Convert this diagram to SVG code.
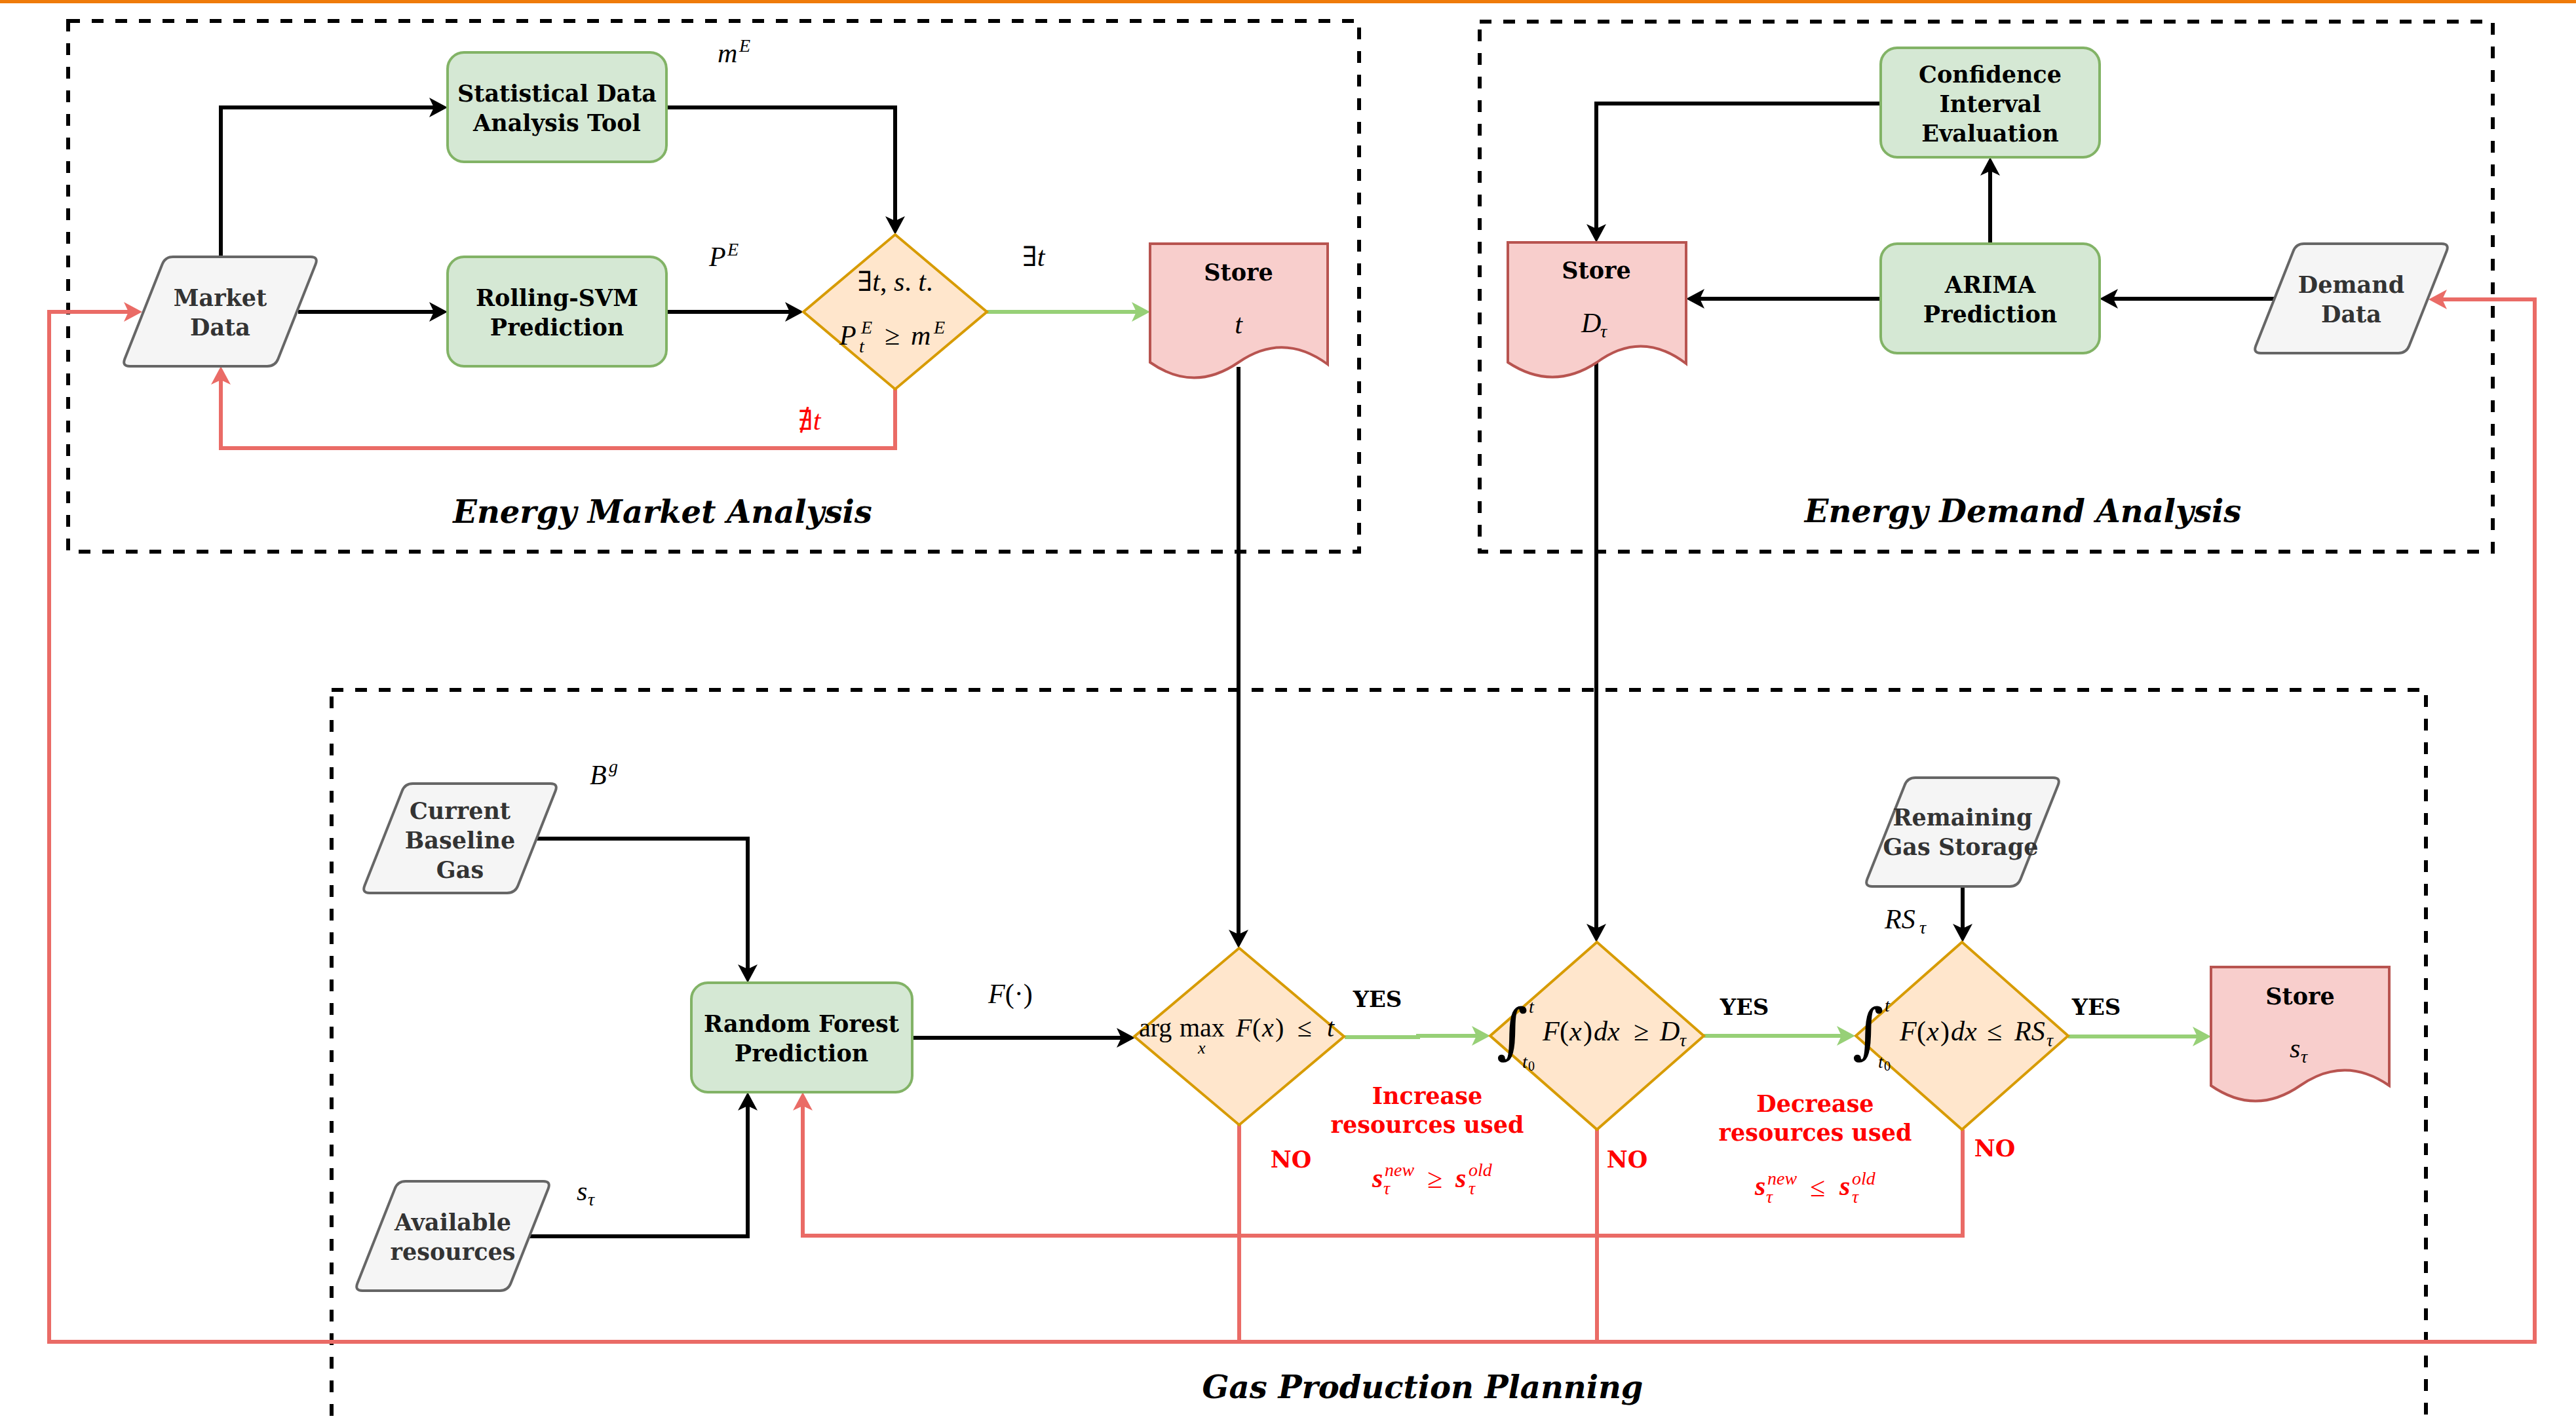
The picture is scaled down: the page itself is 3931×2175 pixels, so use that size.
<svg xmlns="http://www.w3.org/2000/svg" width="3931" height="2175" viewBox="0 0 3931 2175">
<style>
.sec{fill:none;stroke:#000;stroke-width:6;stroke-dasharray:18 18}
.title{font-family:"DejaVu Serif","Liberation Serif",serif;font-weight:bold;font-style:italic;font-size:48px;text-anchor:middle;fill:#000}
.ek{fill:none;stroke:#000;stroke-width:6}
.eg{fill:none;stroke:#97D077;stroke-width:6}
.er{fill:none;stroke:#EA6B66;stroke-width:6}
.proc{fill:#d5e8d4;stroke:#82b366;stroke-width:4}
.io{fill:#f5f5f5;stroke:#666666;stroke-width:4;stroke-linejoin:round}
.dec{fill:#ffe6cc;stroke:#d79b00;stroke-width:4}
.doc{fill:#f8cecc;stroke:#b85450;stroke-width:4}
.lb{font-family:"DejaVu Serif","Liberation Serif",serif;font-weight:bold;font-size:35px;text-anchor:middle;fill:#000}
.lg{fill:#333333}
.m{font-family:"Liberation Serif","DejaVu Serif",serif;font-size:42px;fill:#000}
.i{font-style:italic}
.sc{font-size:28px}
.int{font-family:"DejaVu Serif",serif;font-size:92px;fill:#000}
.red{fill:#FF0000}
.yes{font-family:"DejaVu Serif","Liberation Serif",serif;font-weight:bold;font-size:34px;fill:#000;text-anchor:middle}
.no{font-family:"DejaVu Serif","Liberation Serif",serif;font-weight:bold;font-size:35px;fill:#FF0000;text-anchor:middle}
</style>
<defs>
<marker id="ak" markerUnits="userSpaceOnUse" markerWidth="28" markerHeight="30" viewBox="0 0 28 30" refX="14" refY="15" orient="auto"><path d="M0,0 L28,15 L0,30 L7,15 Z" fill="#000"/></marker>
<marker id="ag" markerUnits="userSpaceOnUse" markerWidth="28" markerHeight="30" viewBox="0 0 28 30" refX="14" refY="15" orient="auto"><path d="M0,0 L28,15 L0,30 L7,15 Z" fill="#97D077"/></marker>
<marker id="ar" markerUnits="userSpaceOnUse" markerWidth="28" markerHeight="30" viewBox="0 0 28 30" refX="14" refY="15" orient="auto"><path d="M0,0 L28,15 L0,30 L7,15 Z" fill="#EA6B66"/></marker>
</defs>
<rect x="0" y="0" width="3931" height="2175" fill="#fff"/>
<rect x="0" y="0" width="3931" height="5" fill="#EF7B0A"/>

<g id="sec-market"><rect class="sec" x="104" y="32" width="1970" height="810"/><text class="title" x="1011" y="798">Energy Market Analysis</text></g>
<g id="sec-demand"><rect class="sec" x="2258" y="33" width="1546" height="809"/><text class="title" x="3087" y="797">Energy Demand Analysis</text></g>
<g id="sec-gas"><rect class="sec" x="506" y="1053" width="3196" height="1300"/><text class="title" x="2171" y="2134">Gas Production Planning</text></g>

<g id="connectors">
<path class="ek" d="M455,476 H669" marker-end="url(#ak)"/>
<path class="ek" d="M337,392 V164 H669" marker-end="url(#ak)"/>
<path class="ek" d="M1017,476 H1212" marker-end="url(#ak)"/>
<path class="ek" d="M1017,164 H1366 V344" marker-end="url(#ak)"/>
<path class="ek" d="M1890,560 V1433" marker-end="url(#ak)"/>
<path class="ek" d="M2870,158 H2436 V356" marker-end="url(#ak)"/>
<path class="ek" d="M2870,456 H2587" marker-end="url(#ak)"/>
<path class="ek" d="M3037,372 V254" marker-end="url(#ak)"/>
<path class="ek" d="M3472,456 H3218" marker-end="url(#ak)"/>
<path class="ek" d="M2436,553 V1424" marker-end="url(#ak)"/>
<path class="ek" d="M819,1280 H1141 V1486" marker-end="url(#ak)"/>
<path class="ek" d="M808,1887 H1141 V1681" marker-end="url(#ak)"/>
<path class="ek" d="M1392,1584 H1718" marker-end="url(#ak)"/>
<path class="ek" d="M2995,1353 V1424" marker-end="url(#ak)"/>
<path class="eg" d="M1506,476 H1741" marker-end="url(#ag)"/>
<path class="eg" d="M2052,1583 H2164 V1581 H2260" marker-end="url(#ag)"/>
<path class="eg" d="M2600,1581 H2817" marker-end="url(#ag)"/>
<path class="eg" d="M3156,1582 H3360" marker-end="url(#ag)"/>
<path class="er" d="M1366,594 V684 H337 V573" marker-end="url(#ar)"/>
<path class="er" d="M2437,1724 V2048 H75 V476 H203" marker-end="url(#ar)"/>
<path class="er" d="M1891,1716 V2048 H3868 V457 H3720" marker-end="url(#ar)"/>
<path class="er" d="M2995,1724 V1886 H1225 V1681" marker-end="url(#ar)"/>
</g>

<g id="edge-labels">
<text class="m"><tspan class="i" x="1095" y="95">m</tspan><tspan class="i sc" x="1128" y="79">E</tspan></text>
<text class="m"><tspan class="i" x="1082" y="406">P</tspan><tspan class="i sc" x="1110" y="390">E</tspan></text>
<text class="m" x="1560" y="406">∃<tspan class="i">t</tspan></text>
<text class="m red" x="1218" y="656">∄<tspan class="i">t</tspan></text>
<text class="m"><tspan class="i" x="900" y="1197">B</tspan><tspan class="i sc" x="929" y="1179">g</tspan></text>
<text class="m"><tspan class="i" x="880" y="1832">s</tspan><tspan class="i sc" x="897" y="1840">τ</tspan></text>
<text class="m" x="1508" y="1531"><tspan class="i">F</tspan>(·)</text>
<text class="m"><tspan class="i" x="2876" y="1417">RS</tspan><tspan class="i sc" x="2929" y="1425">τ</tspan></text>
<text class="yes" x="2102" y="1537">YES</text>
<text class="yes" x="2662" y="1549">YES</text>
<text class="yes" x="3199" y="1549">YES</text>
<text class="no" x="1970" y="1782">NO</text>
<text class="no" x="2483" y="1782">NO</text>
<text class="no" x="3044" y="1765">NO</text>
<text class="no" x="2178" y="1685">Increase</text>
<text class="no" x="2178" y="1729">resources used</text>
<text class="no" x="2770" y="1697">Decrease</text>
<text class="no" x="2770" y="1741">resources used</text>
<text class="m red"><tspan class="i" font-weight="bold" x="2094" y="1812">s</tspan><tspan class="i sc" x="2113" y="1795">new</tspan><tspan class="i sc" x="2111" y="1823">τ</tspan><tspan x="2178" y="1813">≥</tspan><tspan class="i" font-weight="bold" x="2221" y="1812">s</tspan><tspan class="i sc" x="2241" y="1795">old</tspan><tspan class="i sc" x="2241" y="1823">τ</tspan></text>
<text class="m red"><tspan class="i" font-weight="bold" x="2678" y="1824">s</tspan><tspan class="i sc" x="2697" y="1808">new</tspan><tspan class="i sc" x="2695" y="1836">τ</tspan><tspan x="2762" y="1826">≤</tspan><tspan class="i" font-weight="bold" x="2807" y="1824">s</tspan><tspan class="i sc" x="2826" y="1808">old</tspan><tspan class="i sc" x="2826" y="1836">τ</tspan></text>
</g>

<g id="n-market-data"><path class="io" d="M264,392 H474 Q486,392 481.6,403.2 L424.4,547.8 Q420,559 408,559 H198 Q186,559 190.4,547.8 L247.6,403.2 Q252,392 264,392 Z"/><text class="lb lg" x="336" y="467">Market</text><text class="lb lg" x="336" y="512">Data</text></g>
<g id="n-stat-tool"><rect class="proc" x="683" y="80" width="334" height="167" rx="25"/><text class="lb" x="850" y="155">Statistical Data</text><text class="lb" x="850" y="200">Analysis Tool</text></g>
<g id="n-rolling-svm"><rect class="proc" x="683" y="392" width="334" height="167" rx="25"/><text class="lb" x="850" y="467">Rolling-SVM</text><text class="lb" x="850" y="512">Prediction</text></g>
<g id="n-market-check"><path class="dec" d="M1366,358 L1506,476 L1366,594 L1226,476 Z"/>
<text class="m" x="1366" y="444" text-anchor="middle">∃<tspan class="i">t</tspan>, <tspan class="i">s</tspan>. <tspan class="i">t</tspan>.</text>
<text class="m"><tspan class="i" x="1281" y="526">P</tspan><tspan class="i sc" x="1314" y="509">E</tspan><tspan class="i sc" x="1311" y="538">t</tspan><tspan x="1350" y="526">≥</tspan><tspan class="i" x="1390" y="526">m</tspan><tspan class="i sc" x="1425" y="509">E</tspan></text></g>
<g id="n-store-t"><path class="doc" d="M1755,372 H2026 V556 Q1958,506 1890,553 Q1822,600 1755,553 Z"/><text class="lb" x="1890" y="428">Store</text><text class="m i" x="1890" y="509" text-anchor="middle">t</text></g>

<g id="n-confidence"><rect class="proc" x="2870" y="73" width="334" height="167" rx="25"/><text class="lb" x="3037" y="126">Confidence</text><text class="lb" x="3037" y="171">Interval</text><text class="lb" x="3037" y="216">Evaluation</text></g>
<g id="n-arima"><rect class="proc" x="2870" y="372" width="334" height="167" rx="25"/><text class="lb" x="3037" y="447">ARIMA</text><text class="lb" x="3037" y="492">Prediction</text></g>
<g id="n-demand-data"><path class="io" d="M3516,372 H3726 Q3738,372 3733.6,383.2 L3676.4,527.8 Q3672,539 3660,539 H3450 Q3438,539 3442.4,527.8 L3499.6,383.2 Q3504,372 3516,372 Z"/><text class="lb lg" x="3588" y="447">Demand</text><text class="lb lg" x="3588" y="492">Data</text></g>
<g id="n-store-d"><path class="doc" d="M2301,370 H2573 V555 Q2505,503 2437,553 Q2369,598 2301,553 Z"/><text class="lb" x="2436" y="425">Store</text><text class="m"><tspan class="i" x="2413" y="507">D</tspan><tspan class="i sc" x="2442" y="515">τ</tspan></text></g>

<g id="n-current-gas"><path class="io" d="M630,1196 H840 Q852,1196 847.6,1207.2 L790.4,1351.8 Q786,1363 774,1363 H564 Q552,1363 556.4,1351.8 L613.6,1207.2 Q618,1196 630,1196 Z"/><text class="lb lg" x="702" y="1250">Current</text><text class="lb lg" x="702" y="1295">Baseline</text><text class="lb lg" x="702" y="1340">Gas</text></g>
<g id="n-available"><path class="io" d="M619,1803 H829 Q841,1803 836.6,1814.2 L779.4,1958.8 Q775,1970 763,1970 H553 Q541,1970 545.4,1958.8 L602.6,1814.2 Q607,1803 619,1803 Z"/><text class="lb lg" x="691" y="1878">Available</text><text class="lb lg" x="691" y="1923">resources</text></g>
<g id="n-random-forest"><rect class="proc" x="1055" y="1500" width="337" height="167" rx="25"/><text class="lb" x="1223" y="1575">Random Forest</text><text class="lb" x="1223" y="1620">Prediction</text></g>
<g id="n-check-argmax"><path class="dec" d="M1891,1447 L2051,1582 L1891,1717 L1731,1582 Z"/>
<text class="m" style="font-size:40px"><tspan x="1738" y="1582">arg</tspan><tspan x="1800" y="1582">max</tspan><tspan class="i" style="font-size:26px" x="1828" y="1608">x</tspan><tspan class="i" x="1886" y="1582">F</tspan><tspan x="1911" y="1582">(</tspan><tspan class="i" x="1926" y="1582">x</tspan><tspan x="1946" y="1582">)</tspan><tspan x="1980" y="1582">≤</tspan><tspan class="i" x="2025" y="1582">t</tspan></text></g>
<g id="n-check-demand"><path class="dec" d="M2437,1438 L2600,1581 L2437,1724 L2274,1581 Z"/>
<text class="int" x="2284" y="1605">∫</text>
<text class="m"><tspan class="i sc" x="2333" y="1546">t</tspan><tspan class="i sc" x="2323" y="1630">t</tspan><tspan style="font-size:20px" x="2332" y="1634">0</tspan><tspan class="i" x="2354" y="1588">F</tspan><tspan x="2380" y="1588">(</tspan><tspan class="i" x="2395" y="1588">x</tspan><tspan x="2416" y="1588">)</tspan><tspan class="i" x="2432" y="1588">dx</tspan><tspan x="2493" y="1588">≥</tspan><tspan class="i" x="2533" y="1588">D</tspan><tspan class="i sc" x="2563" y="1597">τ</tspan></text></g>
<g id="n-remaining"><path class="io" d="M2923,1187 H3133 Q3145,1187 3140.6,1198.2 L3083.4,1341.8 Q3079,1353 3067,1353 H2857 Q2845,1353 2849.4,1341.8 L2906.6,1198.2 Q2911,1187 2923,1187 Z"/><text class="lb lg" x="2995" y="1260">Remaining</text><text class="lb lg" x="2992" y="1305">Gas Storage</text></g>
<g id="n-check-storage"><path class="dec" d="M2994,1438 L3156,1581 L2994,1724 L2832,1581 Z"/>
<text class="int" x="2827" y="1605">∫</text>
<text class="m"><tspan class="i sc" x="2876" y="1544">t</tspan><tspan class="i sc" x="2866" y="1630">t</tspan><tspan style="font-size:20px" x="2875" y="1634">0</tspan><tspan class="i" x="2899" y="1588">F</tspan><tspan x="2925" y="1588">(</tspan><tspan class="i" x="2940" y="1588">x</tspan><tspan x="2961" y="1588">)</tspan><tspan class="i" x="2977" y="1588">dx</tspan><tspan x="3032" y="1588">≤</tspan><tspan class="i" x="3074" y="1588">RS</tspan><tspan class="i sc" x="3123" y="1597">τ</tspan></text></g>
<g id="n-store-s"><path class="doc" d="M3374,1476 H3646 V1657 Q3578,1610 3510,1657 Q3442,1704 3374,1657 Z"/><text class="lb" x="3510" y="1533">Store</text><text class="m"><tspan class="i" x="3494" y="1614">s</tspan><tspan class="i sc" x="3511" y="1622">τ</tspan></text></g>
</svg>
